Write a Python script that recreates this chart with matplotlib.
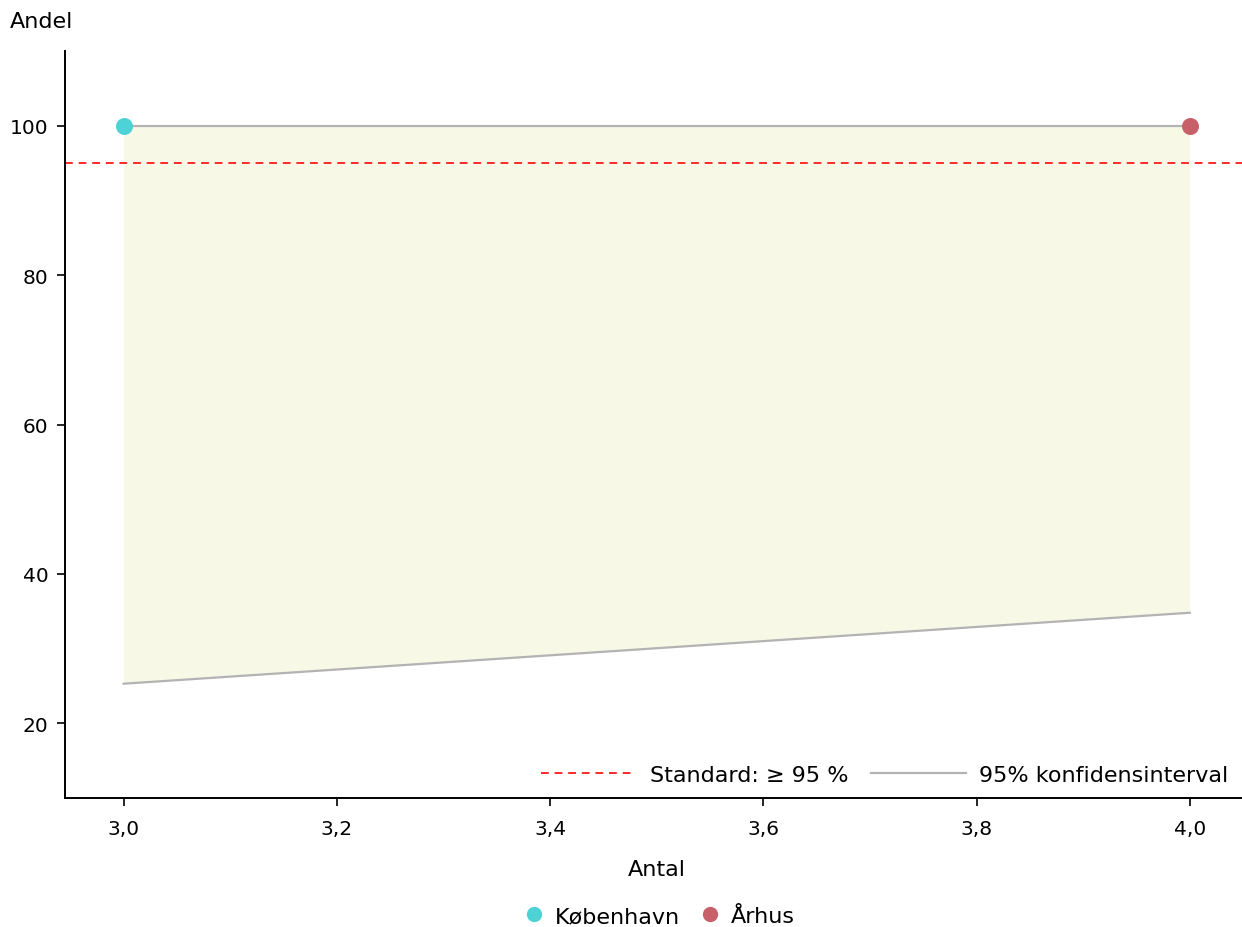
import matplotlib
matplotlib.use("Agg")
import matplotlib.pyplot as plt
from matplotlib.lines import Line2D
from matplotlib.ticker import FuncFormatter

# Data
regions = ["København", "Århus"]
antal = [3, 4]
andel = [100, 100]
region_colors = ["#4dd2d6", "#c8606a"]

ci_x = [3, 4]
ci_upper = [100, 100]
ci_lower = [25.3, 34.8]

standard = 95

fig = plt.figure(figsize=(12.42, 9.28), dpi=100)
ax = fig.add_axes([65 / 1242, 1 - 799 / 928, (1242 - 65) / 1242, (799 - 52) / 928])

ax.fill_between(ci_x, ci_lower, ci_upper, color="#f7f9e6", zorder=1, linewidth=0)
ax.plot(ci_x, ci_upper, color="#b3b3b3", lw=1.6, zorder=2)
ax.plot(ci_x, ci_lower, color="#b3b3b3", lw=1.6, zorder=2)
ax.axhline(standard, color="#ff2a2a", lw=1.4, ls=(0, (4, 3)), zorder=2)

for x, y, c in zip(antal, andel, region_colors):
    ax.scatter([x], [y], s=150, color=c, zorder=3, linewidths=0)

ax.set_xlim(2.945, 4.049)
ax.set_ylim(10, 110)
ax.set_xticks([3.0, 3.2, 3.4, 3.6, 3.8, 4.0])
ax.set_yticks([20, 40, 60, 80, 100])
ax.xaxis.set_major_formatter(FuncFormatter(lambda v, p: f"{v:.1f}".replace(".", ",")))
ax.tick_params(labelsize=14.5, length=6, width=1.2, pad=6)
ax.tick_params(axis="x", pad=9)
for s in ["top", "right"]:
    ax.spines[s].set_visible(False)
for s in ["left", "bottom"]:
    ax.spines[s].set_linewidth(1.4)

fig.text(10 / 1242, 1 - 22 / 928, "Andel", fontsize=16, va="center", ha="left")
fig.text(657 / 1242, 1 - 870 / 928, "Antal", fontsize=16, va="center", ha="center")

inner = [
    Line2D([], [], color="#ff2a2a", lw=1.4, ls=(0, (4, 3))),
    Line2D([], [], color="#b3b3b3", lw=1.6),
]
ax.legend(inner, ["Standard: ≥ 95 %", "95% konfidensinterval"], loc="lower right",
          ncol=2, frameon=False, fontsize=16, handlelength=4.3, columnspacing=1.0,
          handletextpad=0.6, borderaxespad=0.2, bbox_to_anchor=(1.0, 0.0))

outer = [Line2D([], [], ls="", marker="o", markersize=11, color=c, markeredgewidth=0)
         for c in region_colors]
fig.legend(outer, regions, loc="center", bbox_to_anchor=(659 / 1242, 1 - 917 / 928),
           ncol=2, frameon=False, fontsize=16, handlelength=1.0, handletextpad=0.45,
           columnspacing=0.85)

fig.savefig("out.png", dpi=100)
